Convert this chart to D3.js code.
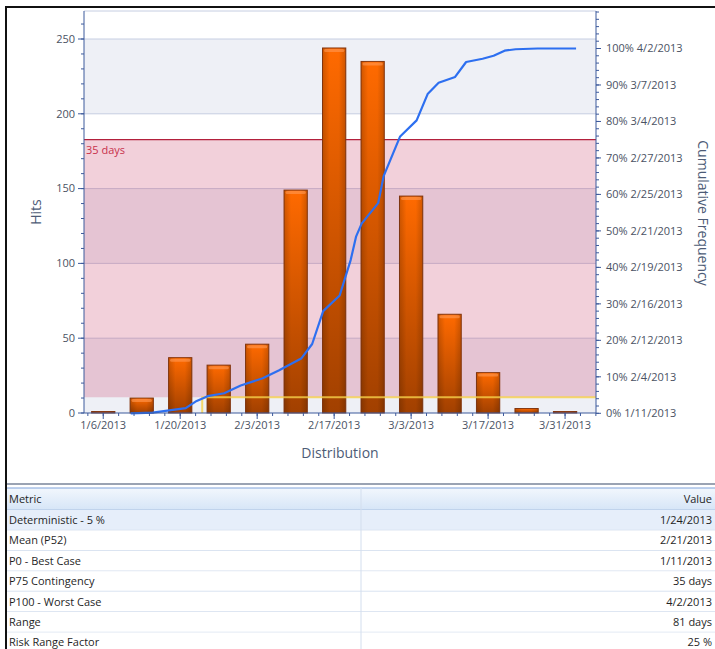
<!DOCTYPE html>
<html>
<head>
<meta charset="utf-8">
<script src="https://cdn.jsdelivr.net/npm/d3@7"></script>
<style>
  body { margin: 0; background: #fff; }
  svg { display: block; font-family: 'Open Sans', 'Noto Sans', sans-serif; }
  .tick_lbl { font-size: 11px; fill: #4a5263; }
  .axes_label { font-size: 14px; fill: #4d5b76; }
  .cell { font-size: 11px; fill: #1f1f1f; }
</style>
</head>
<body>
<svg id="graph" width="715" height="649"></svg>
<script>
/*******************************************************************************************/
// Data

var binDates = ['1/6/2013','1/13/2013','1/20/2013','1/27/2013','2/3/2013','2/10/2013','2/17/2013',
                '2/24/2013','3/3/2013','3/10/2013','3/17/2013','3/24/2013','3/31/2013'];
var hits = [1, 10, 37, 32, 46, 149, 244, 235, 145, 66, 27, 3, 1];

var cumDates = ['1/11/2013','1/15/2013','1/21/2013','1/23/2013','1/25/2013','1/28/2013','1/31/2013','2/4/2013',
                '2/7/2013','2/11/2013','2/13/2013','2/15/2013','2/18/2013','2/20/2013','2/21/2013','2/22/2013',
                '2/25/2013','2/26/2013','3/1/2013','3/4/2013','3/6/2013','3/8/2013','3/11/2013','3/13/2013',
                '3/16/2013','3/18/2013','3/20/2013','3/22/2013','3/26/2013','4/2/2013'];
var cumPct = [0, 0.2, 1.4, 3.4, 4.7, 5.5, 7.6, 9.6, 11.8, 15.0, 19.0, 28.0, 32.3, 42.0, 48.5, 52.0,
              57.6, 65.0, 75.9, 80.3, 87.5, 90.6, 92.2, 96.3, 97.2, 98.0, 99.4, 99.8, 100, 100];

var xTickLabels = ['1/6/2013','1/20/2013','2/3/2013','2/17/2013','3/3/2013','3/17/2013','3/31/2013'];
var hitTicks = [0, 50, 100, 150, 200, 250];
var pctTicks = [0, 10, 20, 30, 40, 50, 60, 70, 80, 90, 100];
var pctTickDates = ['1/11/2013','2/4/2013','2/12/2013','2/16/2013','2/19/2013','2/21/2013',
                    '2/25/2013','2/27/2013','3/4/2013','3/7/2013','4/2/2013'];

var deterministicDate = '1/24/2013', deterministicPct = 4.4;
var contingencyPct = 75, contingencyLabel = '35 days';

var metricNames = ['Deterministic - 5 %','Mean (P52)','P0 - Best Case','P75 Contingency','P100 - Worst Case','Range','Risk Range Factor'];
var metricValues = ['1/24/2013','2/21/2013','1/11/2013','35 days','4/2/2013','81 days','25 %'];

/*******************************************************************************************/
// Scales

var parse = d3.timeParse('%m/%d/%Y');
var plotL = 84, plotR = 596, plotT = 11, plotB = 413;

var xScale = d3.scaleTime().domain([new Date(2013,0,2,12), new Date(2013,3,5,15)]).range([plotL, plotR]);
var yScale = d3.scaleLinear().domain([0, 250]).range([plotB, 39]);
var pScale = d3.scaleLinear().domain([0, 100]).range([413.3, 48.5]);

var graph = d3.select('#graph');
var defs = graph.append('defs');

var g1 = defs.append('linearGradient').attr('id', 'barGrad').attr('x1', 0).attr('y1', 0).attr('x2', 0).attr('y2', 1);
g1.append('stop').attr('offset', '0%').attr('stop-color', '#ff6a00');
g1.append('stop').attr('offset', '100%').attr('stop-color', '#a14000');

var g2 = defs.append('linearGradient').attr('id', 'barShade').attr('x1', 0).attr('y1', 0).attr('x2', 1).attr('y2', 0);
g2.append('stop').attr('offset', '0%').attr('stop-color', '#000').attr('stop-opacity', 0.18);
g2.append('stop').attr('offset', '30%').attr('stop-color', '#000').attr('stop-opacity', 0);
g2.append('stop').attr('offset', '70%').attr('stop-color', '#000').attr('stop-opacity', 0);
g2.append('stop').attr('offset', '100%').attr('stop-color', '#000').attr('stop-opacity', 0.18);

var g3 = defs.append('linearGradient').attr('id', 'headGrad').attr('x1', 0).attr('y1', 0).attr('x2', 0).attr('y2', 1);
g3.append('stop').attr('offset', '0%').attr('stop-color', '#f2f7fd');
g3.append('stop').attr('offset', '100%').attr('stop-color', '#d6e5f7');

/*******************************************************************************************/
// Plot background: stripes, contingency band, grid

var stripeTop = yScale.invert(plotT);
var stripes = d3.range(0, 300, 50).map(function(v){ return { lo: v, hi: Math.min(v + 50, stripeTop) }; });
graph.selectAll('.stripe').data(stripes).enter().append('rect')
  .attr('x', plotL).attr('width', plotR - plotL)
  .attr('y', function(d){ return yScale(d.hi) }).attr('height', function(d){ return yScale(d.lo) - yScale(d.hi) })
  .style('fill', function(d, i){ return i % 2 == 0 ? '#eef0f6' : '#ffffff' });

graph.selectAll('.grid').data(hitTicks.slice(1).concat([stripeTop])).enter().append('line')
  .attr('x1', plotL).attr('x2', plotR)
  .attr('y1', function(d){ return yScale(d) }).attr('y2', function(d){ return yScale(d) })
  .style('stroke', '#c6cee2').style('stroke-width', 1);

graph.append('rect')
  .attr('x', plotL).attr('width', plotR - plotL)
  .attr('y', pScale(contingencyPct)).attr('height', pScale(deterministicPct) - pScale(contingencyPct))
  .style('fill', 'rgb(200,55,97)').style('fill-opacity', 0.235);

graph.append('line').attr('x1', plotL).attr('x2', plotR)
  .attr('y1', pScale(contingencyPct)).attr('y2', pScale(contingencyPct))
  .style('stroke', '#b3203c').style('stroke-width', 1.2);

graph.append('text').attr('x', plotL + 2).attr('y', pScale(contingencyPct) + 14)
  .style('font-size', '11px').style('fill', '#c8304c').text(contingencyLabel);

/*******************************************************************************************/
// Bars

var barData = binDates.map(function(d, i){ return { date: parse(d), hits: hits[i] } });
var barW = (xScale(parse(binDates[1])) - xScale(parse(binDates[0]))) * 0.605;

var bars = graph.selectAll('.bar').data(barData).enter().append('g').attr('class', 'bar');
bars.append('rect')
  .attr('x', function(d){ return xScale(d.date) - barW/2 }).attr('width', barW)
  .attr('y', function(d){ return yScale(d.hits) }).attr('height', function(d){ return plotB - yScale(d.hits) })
  .style('fill', 'url(#barGrad)').style('stroke', '#8a3a12').style('stroke-width', 1);
bars.append('rect')
  .attr('x', function(d){ return xScale(d.date) - barW/2 }).attr('width', barW)
  .attr('y', function(d){ return yScale(d.hits) }).attr('height', function(d){ return plotB - yScale(d.hits) })
  .style('fill', 'url(#barShade)');
bars.filter(function(d){ return plotB - yScale(d.hits) > 6 }).append('rect')
  .attr('x', function(d){ return xScale(d.date) - barW/2 + 1.5 }).attr('width', barW - 3)
  .attr('y', function(d){ return yScale(d.hits) + 1 }).attr('height', 3).attr('rx', 1.5)
  .style('fill', '#ff9a55').style('fill-opacity', 0.6);

/*******************************************************************************************/
// Deterministic marker and cumulative curve

graph.append('path')
  .attr('d', 'M' + xScale(parse(deterministicDate)) + ',' + plotB + 'V' + pScale(deterministicPct) + 'H' + plotR)
  .style('fill', 'none').style('stroke', '#f6d24a').style('stroke-opacity', 0.8).style('stroke-width', 2);

var lineGen = d3.line().x(function(d){ return xScale(d.date) }).y(function(d){ return pScale(d.pct) });
var cumData = cumDates.map(function(d, i){ return { date: parse(d), pct: cumPct[i] } });
graph.append('path').attr('d', lineGen(cumData))
  .style('fill', 'none').style('stroke', '#2d6ff0').style('stroke-width', 2.2).style('stroke-linejoin', 'round');

/*******************************************************************************************/
// Axes

var axisCol = '#3d5a9c';

var left = graph.append('g').attr('transform', 'translate(' + plotL + ',0)');
left.append('line').attr('y1', plotT).attr('y2', plotB).style('stroke', axisCol);
left.selectAll('.mn').data(d3.range(0, 261, 10)).enter().append('line')
  .attr('x1', -3).attr('x2', 0).attr('y1', function(d){ return yScale(d) }).attr('y2', function(d){ return yScale(d) })
  .style('stroke', axisCol);
left.selectAll('.mj').data(hitTicks).enter().append('line')
  .attr('x1', -6).attr('x2', 0).attr('y1', function(d){ return yScale(d) }).attr('y2', function(d){ return yScale(d) })
  .style('stroke', axisCol);
left.selectAll('.lb').data(hitTicks).enter().append('text').attr('class', 'tick_lbl')
  .attr('x', -9).attr('y', function(d){ return yScale(d) }).attr('dy', '0.35em')
  .style('text-anchor', 'end').text(function(d){ return d });

var right = graph.append('g').attr('transform', 'translate(' + plotR + ',0)');
right.append('line').attr('y1', plotT).attr('y2', plotB).style('stroke', axisCol);
right.selectAll('.mn').data(d3.range(0, pScale.invert(plotT), 2)).enter().append('line')
  .attr('x1', 0).attr('x2', 3).attr('y1', function(d){ return pScale(d) }).attr('y2', function(d){ return pScale(d) })
  .style('stroke', axisCol);
right.selectAll('.mj').data(pctTicks).enter().append('line')
  .attr('x1', 0).attr('x2', 5).attr('y1', function(d){ return pScale(d) }).attr('y2', function(d){ return pScale(d) })
  .style('stroke', axisCol);
right.selectAll('.lb').data(pctTicks).enter().append('text').attr('class', 'tick_lbl')
  .attr('x', 10).attr('y', function(d){ return pScale(d) }).attr('dy', '0.35em')
  .text(function(d, i){ return d + '% ' + pctTickDates[i] });

var bottom = graph.append('g').attr('transform', 'translate(0,' + plotB + ')');
bottom.append('line').attr('x1', plotL).attr('x2', plotR).style('stroke', axisCol);
var majorDates = xTickLabels.map(parse);
var minorDates = [];
d3.range(-2, xTickLabels.length * 5 + 3).forEach(function(k){
  var d = new Date(+majorDates[0] + k * (+majorDates[1] - +majorDates[0]) / 5);
  if(xScale(d) >= plotL && xScale(d) <= plotR) minorDates.push(d);
});
bottom.selectAll('.mn').data(minorDates).enter().append('line')
  .attr('x1', function(d){ return xScale(d) }).attr('x2', function(d){ return xScale(d) }).attr('y1', 0).attr('y2', 3)
  .style('stroke', axisCol);
bottom.selectAll('.mj').data(majorDates).enter().append('line')
  .attr('x1', function(d){ return xScale(d) }).attr('x2', function(d){ return xScale(d) }).attr('y1', 0).attr('y2', 6)
  .style('stroke', axisCol);
bottom.selectAll('.lb').data(xTickLabels).enter().append('text').attr('class', 'tick_lbl')
  .attr('x', function(d){ return xScale(parse(d)) }).attr('y', 16)
  .style('text-anchor', 'middle').text(function(d){ return d });

graph.append('text').attr('class', 'axes_label').attr('transform', 'translate(41,212) rotate(-90)')
  .style('text-anchor', 'middle').text('Hits');
graph.append('text').attr('class', 'axes_label').attr('x', 340).attr('y', 458)
  .style('text-anchor', 'middle').text('Distribution');
graph.append('text').attr('class', 'axes_label').attr('transform', 'translate(698,213) rotate(90)')
  .style('text-anchor', 'middle').text('Cumulative Frequency');

/*******************************************************************************************/
// Metrics table

var tableTop = 488, headH = 22, rowH = 20.4;
graph.append('line').attr('x1', 6).attr('x2', 715).attr('y1', 484).attr('y2', 484).style('stroke', '#9aa3b3').style('stroke-width', 2);
graph.append('rect').attr('x', 6).attr('y', tableTop).attr('width', 709).attr('height', headH).style('fill', 'url(#headGrad)');
graph.append('line').attr('x1', 6).attr('x2', 715).attr('y1', tableTop).attr('y2', tableTop).style('stroke', '#7fa2da');
graph.append('line').attr('x1', 6).attr('x2', 715).attr('y1', tableTop + headH).attr('y2', tableTop + headH).style('stroke', '#a9c0e0');
graph.append('text').attr('class', 'cell').attr('x', 9).attr('y', tableTop + headH/2).attr('dy', '0.35em').text('Metric');
graph.append('text').attr('class', 'cell').attr('x', 712).attr('y', tableTop + headH/2).attr('dy', '0.35em')
  .style('text-anchor', 'end').text('Value');

var rows = graph.selectAll('.row').data(metricNames).enter().append('g')
  .attr('transform', function(d, i){ return 'translate(0,' + (tableTop + headH + i * rowH) + ')' });
rows.append('rect').attr('x', 6).attr('width', 709).attr('height', rowH)
  .style('fill', function(d, i){ return i == 0 ? '#e6eefa' : '#ffffff' });
rows.append('line').attr('x1', 6).attr('x2', 715).attr('y1', rowH).attr('y2', rowH)
  .style('stroke', '#d3deee').style('stroke-width', 1.5);
rows.append('text').attr('class', 'cell').attr('x', 9).attr('y', rowH/2).attr('dy', '0.35em').text(function(d){ return d });
rows.append('text').attr('class', 'cell').attr('x', 712).attr('y', rowH/2).attr('dy', '0.35em')
  .style('text-anchor', 'end').text(function(d, i){ return metricValues[i] });

graph.append('line').attr('x1', 361).attr('x2', 361).attr('y1', tableTop).attr('y2', 649).style('stroke', '#d3deee');

// outer frame
graph.append('path').attr('d', 'M6,649V7H715').style('fill', 'none').style('stroke', '#111').style('stroke-width', 2);
</script>
</body>
</html>
